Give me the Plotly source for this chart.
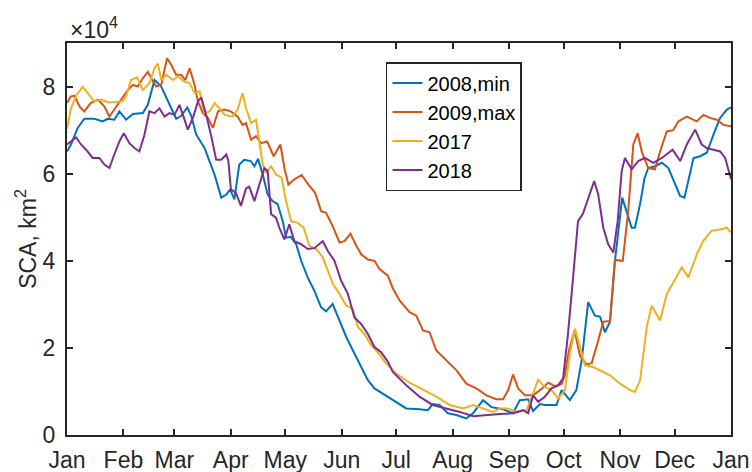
import plotly.graph_objects as go

# Month ticks (day of year of each month start)
month_labels = ["Jan", "Feb", "Mar", "Apr", "May", "Jun", "Jul", "Aug", "Sep", "Oct", "Nov", "Dec", "Jan"]
month_days = [0, 31, 59, 90, 120, 151, 181, 212, 243, 273, 304, 334, 365]

# y tick values in units of 10^4 km^2
y_ticks = [0, 2, 4, 6, 8]

# ---- 2008 (min) : day of year, SCA in 10^4 km^2 ----
day_2008 = [0, 2.2, 5.9, 9.5, 15, 19.6, 22.4, 26, 28.8, 32.5, 36.2, 41.7, 44.4, 48.1, 51.8, 55.4,
            60, 62.8, 66.1, 68.3, 71, 75.6, 81.1, 84.8, 87.6, 89.7, 92, 94.7, 97.5, 101, 103, 105,
            107.6, 110.3, 113, 115.8, 118.6, 120.4, 123, 126, 128.7, 132.3, 136, 139.7, 142.4, 146,
            149.8, 153.5, 158, 161.7, 165.4, 169, 173.6, 178, 186.5, 193.8, 198.4, 201, 204.8, 209.4,
            214, 219.5, 223.2, 228.7, 233.3, 239.7, 245.2, 248.9, 253.5, 256.2, 260, 262.7, 269.1,
            271.9, 276.4, 280, 282.9, 286.5, 290.2, 293, 295.7, 298.5, 301.2, 305.2, 307.6, 310.4,
            312.2, 315, 317.5, 319.5, 323.2, 327, 330.6, 334.3, 337, 339.4, 341.6, 344.4, 348,
            351.7, 355.4, 359, 362.7, 365]
sca_2008 = [6.51, 6.67, 7.05, 7.26, 7.26, 7.2, 7.26, 7.24, 7.43, 7.24, 7.37, 7.39, 7.58, 8.15, 8.0, 7.66,
            7.26, 7.33, 7.52, 7.33, 6.9, 6.59, 5.98, 5.45, 5.52, 5.64, 5.41, 6.21, 6.32, 6.29, 6.17, 6.34,
            5.98, 5.52, 5.37, 5.3, 4.91, 4.53, 4.55, 4.38, 4.0, 3.62, 3.31, 2.93, 2.84, 3.01,
            2.63, 2.25, 1.87, 1.56, 1.26, 1.07, 0.95, 0.82, 0.61, 0.59, 0.57, 0.71, 0.69, 0.5,
            0.46, 0.38, 0.5, 0.8, 0.64, 0.59, 0.5, 0.8, 0.82, 0.55, 0.71, 0.69, 0.69,
            1.03, 0.8, 1.03, 1.71, 3.05, 2.74, 2.72, 2.36, 2.6, 4.0, 5.45, 5.14, 4.76,
            4.76, 5.3, 5.9, 6.13, 6.17, 6.25, 6.13, 5.75, 5.49, 5.45, 5.83, 6.36, 6.4,
            6.48, 6.9, 7.28, 7.47, 7.52]

# ---- 2009 (max) ----
day_2009 = [0, 2, 4, 7, 9.5, 13, 17, 20.6, 23.3, 26, 29.7, 33.4, 36.2, 38.9, 41.7, 44.4, 46.3, 49,
            51.8, 55, 57.3, 60, 62.8, 65, 67.4, 70.1, 72, 74.7, 77.5, 80.2, 83, 86.6, 90, 93.8, 96.5,
            98.4, 101.2, 103.9, 106.7, 110, 113.6, 117.3, 119.5, 121.7, 125, 129, 132.7, 136.4,
            139.7, 142.4, 146, 149.8, 152.5, 155.8, 159, 161.7, 165.4, 169, 171.8, 176.4, 179.1,
            182.8, 188.3, 192, 195.7, 199.3, 203, 208.5, 214, 219.5, 225, 230.6, 236, 239.7, 242.5,
            245.2, 248, 251.7, 256.2, 260, 264.5, 268.2, 271.9, 273.5, 276, 279, 282, 285.6, 288.4,
            292, 294.8, 298.5, 301.2, 305.5, 308.5, 311.3, 313.7, 316, 319.5, 323.2, 326, 329.7,
            333.3, 336, 340.7, 346.2, 349.8, 353.5, 357.2, 360.8, 365]
sca_2009 = [7.62, 7.77, 7.79, 7.54, 7.43, 7.62, 7.7, 7.54, 7.31, 7.47, 7.7, 7.92, 8.04, 8.0, 8.19, 8.34, 8.19, 8.0,
            8.04, 8.65, 8.5, 8.27, 8.27, 8.15, 8.42, 8.04, 7.66, 7.39, 7.28, 7.05, 7.43, 7.47, 7.43, 7.31, 7.12,
            7.16, 6.78, 6.86, 6.7, 6.74, 6.4, 6.67, 6.13, 5.75, 5.87, 5.97, 5.75, 5.56,
            5.14, 5.1, 4.8, 4.42, 4.45, 4.62, 4.35, 4.15, 4.03, 4.0, 3.81, 3.66, 3.37,
            3.09, 2.82, 2.74, 2.4, 2.36, 1.94, 1.71, 1.49, 1.18, 1.07, 0.91, 0.82, 0.82, 1.03,
            1.39, 1.07, 0.91, 0.91, 1.03, 1.2, 1.12, 1.17, 1.35, 1.95, 2.4, 1.82, 1.62, 1.65,
            2.17, 2.6, 2.62, 4.02, 4.0, 5.14, 6.67, 6.93, 6.5, 6.13, 6.1, 6.51, 6.97,
            7.0, 7.2, 7.31, 7.2, 7.35, 7.28, 7.24, 7.12, 7.09]

# ---- 2017 ----
day_2017 = [0, 2, 5, 8.6, 11.4, 15, 18.7, 22.4, 26, 30.6, 32.5, 35.2, 38.5, 41.7, 45.3, 48.1, 49.9,
            51.8, 54.5, 58.2, 61, 64.6, 67.4, 70.1, 72.9, 75.6, 78.4, 81.1, 83.9, 86.6, 91, 93.8, 96.5,
            98.4, 101.2, 103.9, 105.7, 107.6, 109.4, 112.2, 114.9, 118, 120.4, 123.2, 126.8, 130.1,
            133.3, 137, 140.6, 143.3, 146.1, 149.8, 153.5, 157.1, 159.9, 163.5, 167.2, 170.9, 174.6,
            179.1, 181, 188.3, 195.7, 203, 210.4, 217.7, 223.2, 228.7, 234.2, 237.9, 242.5, 247.1,
            252.6, 256.2, 259, 262.7, 266.3, 270, 273.7, 276.4, 279.2, 282, 284.7, 289.3, 294.8,
            298.5, 304, 309.5, 312.2, 315, 318.7, 321.4, 326, 329.7, 333.3, 337.9, 341.6, 346.2,
            349.8, 354.4, 359, 362.7, 365]
sca_2017 = [7.03, 7.47, 7.79, 8.0, 7.85, 7.66, 7.7, 7.64, 7.64, 7.66, 7.79, 8.15, 8.21, 7.92, 8.08, 8.42, 8.53,
            8.15, 8.27, 8.15, 8.23, 8.11, 8.08, 7.85, 7.89, 7.39, 7.43, 7.62, 7.5, 7.35, 7.31, 7.47, 7.85,
            7.5, 7.16, 7.24, 6.74, 6.21, 6.02, 6.17, 5.98, 5.91, 5.37, 4.91, 4.87, 4.76,
            4.34, 4.27, 4.08, 3.77, 3.47, 3.24, 2.97, 2.9, 2.48, 2.32, 2.06, 1.9, 1.68,
            1.49, 1.41, 1.2, 1.03, 0.88, 0.69, 0.61, 0.69, 0.61, 0.53, 0.61, 0.61, 0.53,
            0.57, 0.95, 1.27, 1.1, 1.03, 0.84, 1.03, 1.87, 2.44, 2.02, 1.6, 1.56, 1.45,
            1.37, 1.18, 1.03, 0.99, 1.25, 2.48, 2.97, 2.63, 3.24, 3.5, 3.85, 3.62, 4.15,
            4.46, 4.69, 4.72, 4.76, 4.65]

# ---- 2018 ----
day_2018 = [0, 2, 5, 7.7, 10.5, 14.1, 17.8, 20.6, 23.3, 26, 28.8, 31.2, 34.3, 37.1, 39.8, 42.6, 45.3,
            48.1, 50.8, 53.6, 56.3, 59.1, 61.8, 64.3, 66.4, 69.2, 72, 73.8, 76.5, 79.3, 82, 84.8, 87.6,
            88.7, 90.1, 92.9, 95.6, 98.4, 100.2, 103, 105.7, 108.5, 110.3, 112.2, 114.9, 116.7, 119.5,
            122.2, 125, 128.7, 132.3, 136, 140.6, 143.3, 147, 150.7, 154.4, 158, 161.7, 165.4, 169,
            172.7, 176.4, 179.1, 186.5, 193.8, 201, 208.5, 215.9, 223.2, 230.6, 237.9, 245.2, 250.7,
            253.5, 256.2, 259, 262.7, 266.3, 270, 272.7, 275.4, 278.2, 280.9, 283.6, 286.4, 289.8,
            292, 294.8, 297.5, 300.3, 302.7, 304.9, 306.7, 310.4, 314, 317.6, 322.3, 327, 332.9,
            337.1, 340.7, 345.3, 348.9, 351.7, 355.4, 359, 361.8, 365]
sca_2018 = [6.67, 6.74, 6.83, 6.67, 6.55, 6.36, 6.36, 6.21, 6.13, 6.44, 6.74, 6.93, 6.7, 6.59, 6.51, 6.9, 7.43,
            7.39, 7.5, 7.31, 7.39, 7.35, 7.58, 7.28, 7.01, 7.28, 7.66, 7.75, 7.35, 6.86, 6.32, 6.32, 6.44,
            6.29, 5.64, 5.56, 5.26, 5.66, 5.7, 5.37, 5.75, 6.13, 6.06, 5.07, 4.99, 4.76, 4.49,
            4.84, 4.45, 4.38, 4.27, 4.29, 4.45, 4.23, 4.0, 3.54, 3.24, 2.7, 2.55, 2.32, 2.02,
            1.9, 1.68, 1.45, 1.14, 0.88, 0.69, 0.61, 0.53, 0.43, 0.46, 0.48, 0.5, 0.57,
            0.5, 0.91, 0.76, 0.88, 1.07, 1.14, 1.3, 2.32, 3.62, 4.91, 5.08, 5.4, 5.83,
            5.52, 4.76, 4.38, 4.19, 4.91, 6.06, 6.36, 6.1, 6.29, 6.36, 6.25, 6.36, 6.55,
            6.29, 6.67, 7.01, 6.67, 6.59, 6.55, 6.51, 6.36, 5.87]

series = [
    ("2008,min", day_2008, sca_2008, "#0072BD"),
    ("2009,max", day_2009, sca_2009, "#D95319"),
    ("2017", day_2017, sca_2017, "#EDB120"),
    ("2018", day_2018, sca_2018, "#7E2F8E"),
]

fig = go.Figure()
for name, d, v, c in series:
    fig.add_trace(go.Scatter(x=d, y=v, mode="lines", name=name,
                             line=dict(color=c, width=2)))

axis_color = "#262626"
font_family = "Liberation Sans, Arial, Helvetica, sans-serif"

fig.update_layout(
    width=752, height=472,
    margin=dict(l=67, r=21, t=43, b=37),
    plot_bgcolor="white", paper_bgcolor="white",
    font=dict(family=font_family, size=23, color=axis_color),
    showlegend=True,
    legend=dict(x=0.4804, y=0.9515, xanchor="left", yanchor="top",
                bgcolor="white", bordercolor=axis_color, borderwidth=1.5,
                font=dict(size=20, color="#000000"), itemwidth=30,
                tracegroupgap=0),
    annotations=[dict(text="\u00d710<sup>4</sup>", xref="paper", yref="paper",
                      x=0.0, y=1.0, xanchor="left", yanchor="bottom", xshift=1, yshift=-2,
                      showarrow=False, font=dict(size=23, color=axis_color))],
)

fig.update_xaxes(range=[0, 365], tickvals=month_days, ticktext=month_labels,
                 ticks="inside", ticklen=6, tickwidth=1.5, tickcolor=axis_color,
                 showline=True, linecolor=axis_color, linewidth=2, mirror="ticks",
                 showgrid=False, zeroline=False, ticklabelstandoff=3, automargin=False)
fig.update_yaxes(range=[0, 9], tickvals=y_ticks, ticktext=[str(t) for t in y_ticks],
                 ticks="inside", ticklen=6, tickwidth=1.5, tickcolor=axis_color,
                 showline=True, linecolor=axis_color, linewidth=2, mirror="ticks",
                 showgrid=False, zeroline=False, ticklabelstandoff=5, automargin=False,
                 title=dict(text="SCA, km<sup>2</sup>", standoff=0,
                            font=dict(size=23, color=axis_color)))

fig.write_html("out.html", config={"displayModeBar": False},
               post_script="document.body.style.margin='0';document.body.style.overflow='hidden';")
